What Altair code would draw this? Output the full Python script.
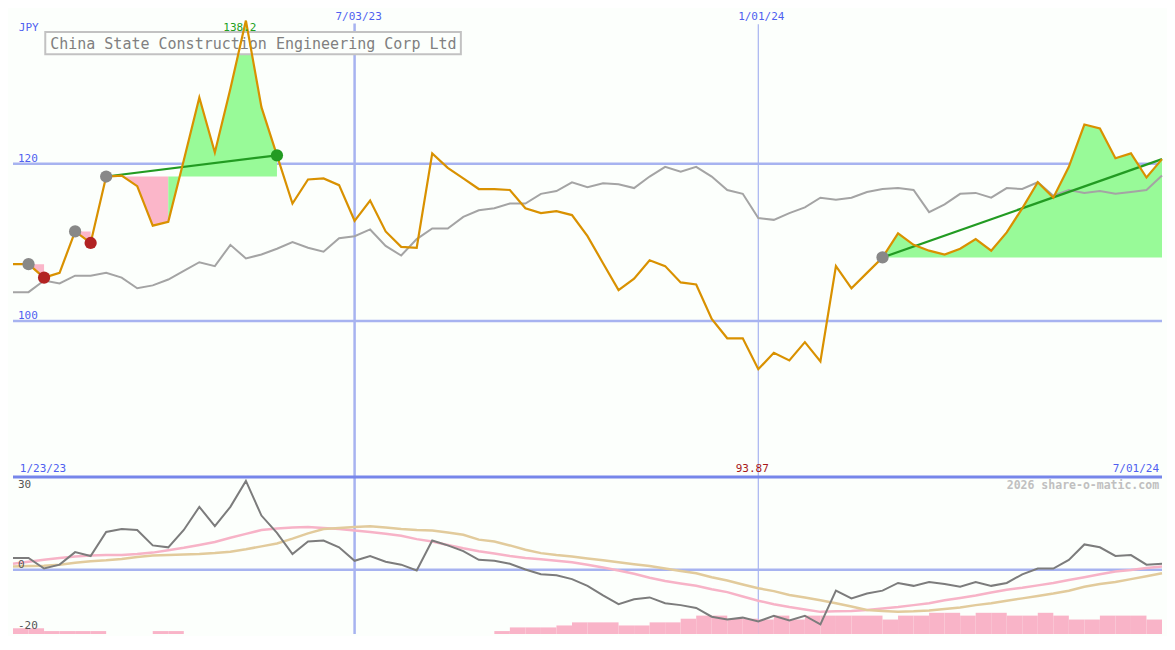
import altair as alt
import pandas as pd

# ---------------- data ----------------
dates = pd.date_range("2023-01-30", periods=75, freq="7D")

price = [107.23, 107.23, 105.51, 106.12, 111.39, 109.92, 118.37, 118.49, 117.15, 112.12,
         112.61, 120.45, 128.41, 121.43, 129.52, 138.2, 127.19, 121.07, 114.94, 118.0,
         118.13, 117.27, 112.74, 115.31, 111.39, 109.43, 109.31, 121.31, 119.47, 118.13,
         116.78, 116.78, 116.66, 114.33, 113.72, 113.96, 113.47, 110.78, 107.35, 103.92,
         105.39, 107.72, 106.98, 104.9, 104.65, 100.25, 97.8, 97.8, 93.87, 95.96,
         94.98, 97.31, 94.86, 106.98, 104.16, 106.12, 108.08, 111.15, 109.68, 108.94,
         108.45, 109.19, 110.41, 108.94, 111.27, 114.33, 117.64, 115.68, 119.6, 124.98,
         124.49, 120.7, 121.31, 118.25, 120.58]

relative = [103.67, 103.67, 105.14, 104.78, 105.76, 105.76, 106.12, 105.51, 104.16, 104.53,
            105.27, 106.37, 107.47, 106.98, 109.68, 107.96, 108.45, 109.19, 110.05, 109.31,
            108.82, 110.53, 110.78, 111.64, 109.55, 108.33, 110.41, 111.76, 111.76, 113.23,
            114.08, 114.33, 114.94, 114.94, 116.17, 116.53, 117.64, 117.02, 117.51, 117.39,
            116.9, 118.37, 119.6, 118.98, 119.6, 118.37, 116.66, 116.17, 113.1, 112.86,
            113.72, 114.45, 115.68, 115.43, 115.68, 116.41, 116.78, 116.9, 116.66, 113.84,
            114.82, 116.17, 116.29, 115.68, 116.9, 116.78, 117.64, 115.92, 116.66, 116.29,
            116.53, 116.17, 116.41, 116.66, 118.49]

osc = [4.21, 4.21, 0.45, 1.82, 6.27, 4.9, 13.46, 14.49, 14.14, 8.66,
       7.98, 14.14, 22.36, 15.51, 22.36, 31.61, 19.28, 13.12, 5.58, 10.03,
       10.38, 7.98, 3.18, 4.9, 2.84, 1.82, -0.24, 10.38, 8.66, 6.61,
       3.53, 3.18, 2.16, 0.1, -1.61, -1.95, -3.32, -5.72, -9.14, -12.23,
       -10.51, -9.83, -11.88, -12.57, -13.59, -16.68, -17.71, -17.02, -18.39, -16.34,
       -18.05, -16.34, -19.42, -7.43, -10.17, -8.46, -7.43, -4.69, -5.72, -4.35,
       -5.03, -6.06, -4.35, -5.72, -4.69, -1.61, 0.45, 0.45, 3.53, 9.01,
       7.98, 4.9, 5.24, 1.82, 2.16]

ma_fast = [2.16, 2.84, 3.53, 4.21, 4.73, 5.07, 5.24, 5.24, 5.58, 6.1,
           6.95, 7.81, 8.84, 9.86, 11.4, 12.77, 14.14, 14.66, 15.0, 15.17,
           14.83, 14.49, 13.97, 13.46, 12.77, 12.09, 10.89, 10.03, 8.84, 7.64,
           6.61, 5.75, 4.9, 4.21, 3.7, 3.18, 2.67, 1.82, 0.79, -0.24,
           -1.44, -2.81, -4.01, -4.86, -5.72, -6.92, -7.95, -9.49, -11.03, -12.23,
           -13.25, -14.11, -14.97, -14.79, -14.62, -14.28, -13.77, -13.25, -12.57, -11.88,
           -10.86, -10.0, -9.14, -8.12, -7.09, -6.4, -5.55, -4.69, -3.66, -2.64,
           -1.61, -0.58, -0.07, 0.62, 1.13]

ma_slow = [1.13, 1.3, 1.47, 1.82, 2.5, 3.01, 3.36, 3.87, 4.55, 5.07,
           5.24, 5.41, 5.58, 5.92, 6.44, 7.29, 8.32, 9.35, 11.06, 12.95,
           14.49, 14.83, 15.17, 15.51, 15.0, 14.49, 14.14, 13.97, 13.29, 12.43,
           10.72, 10.03, 8.66, 7.12, 5.92, 5.24, 4.73, 4.04, 3.36, 2.67,
           1.99, 1.3, 0.45, -0.41, -1.27, -2.64, -3.84, -5.21, -6.58, -7.6,
           -8.97, -9.83, -10.86, -11.88, -13.08, -14.28, -14.62, -14.97, -14.79, -14.45,
           -13.94, -13.42, -12.57, -11.88, -11.03, -10.17, -9.32, -8.46, -7.43, -6.06,
           -5.03, -4.35, -3.32, -2.29, -1.27]

bars = [-20.8, -20.8, -21.8, -21.8, -21.8, -21.8, None, None, None, -21.8,
        -21.8, None, None, None, None, None, None, None, None, None,
        None, None, None, None, None, None, None, None, None, None,
        None, -21.8, -20.5, -20.5, -20.5, -19.8, -18.7, -18.7, -18.7, -19.8,
        -19.8, -18.7, -18.7, -17.4, -16.3, -16.3, -17.4, -17.4, -17.7, -16.3,
        -17.7, -16.3, -16.3, -16.3, -16.3, -16.3, -17.7, -16.3, -16.3, -15.3,
        -15.3, -16.3, -15.3, -15.3, -16.3, -16.3, -15.3, -16.3, -17.7, -17.7,
        -16.3, -16.3, -16.3, -17.7, None]

sig_start = [1, 4, 6, 56]
sig_end = [2, 5, 17, 74]
sig_closed = [True, True, True, False]

title_text = "China State Construction Engineering Corp Ltd"
high_label = "138.2"
low_label = "93.87"

# ---------------- layout / style ----------------
W, H = 1149, 626
SX, SY = W / 1175, H / 650
MONO = "DejaVu Sans Mono"
BG = "#fcfffc"
BLUE_TXT = "#4f5ff0"
GRID = "#a7b3f0"
SEP = "#7686ea"
ORANGE = "#d99100"
GRAY = "#a4a4a4"
GREEN_FILL = "#98fa98"
PINK_FILL = "#fbb6c9"
GREEN_LINE = "#229b22"

TOP_DOM = [80.16, 139.80]
TOP_RNG = [487 * SY, 0]
LOW_DOM = [-22.84, 32.98]
LOW_RNG = [650 * SY, 487 * SY]

xscale = alt.Scale(domain=[alt.DateTime(year=2023, month=1, date=30),
                           alt.DateTime(year=2024, month=7, date=1)])


def X(field="date"):
    return alt.X(f"{field}:T", scale=xscale, axis=None)


def YT(field):
    return alt.Y(f"{field}:Q", scale=alt.Scale(domain=TOP_DOM, range=TOP_RNG, nice=False, zero=False),
                 axis=None, stack=None)


def YL(field):
    return alt.Y(f"{field}:Q", scale=alt.Scale(domain=LOW_DOM, range=LOW_RNG, nice=False, zero=False),
                 axis=None, stack=None)


def one():
    return alt.Chart(pd.DataFrame({"a": [0]}))


def label(txt, x, y, color, size=11, align="left", weight="normal"):
    return alt.Chart(pd.DataFrame({"t": [txt]})).mark_text(
        align=align, baseline="middle", font=MONO, fontSize=size, color=color, fontWeight=weight
    ).encode(x=alt.value(x * SX), y=alt.value(y * SY), text="t:N")


# ---------------- tables ----------------
main = pd.DataFrame({"date": dates, "price": price, "relative": relative, "osc": osc,
                     "ma_fast": ma_fast, "ma_slow": ma_slow})

bar_rows = []
for i, b in enumerate(bars):
    if b is not None and i + 1 < len(dates):
        bar_rows.append({"date": dates[i], "date2": dates[i + 1], "v": b, "base": LOW_DOM[0]})
bar_df = pd.DataFrame(bar_rows)

fill_rows = []
for k, (s, e) in enumerate(zip(sig_start, sig_end)):
    L = price[s]
    run = 0
    prev = None
    for i in range(s, e):
        st = "up" if price[i + 1] >= L else "down"
        if st != prev:
            run += 1
            prev = st
            fill_rows.append({"date": dates[i], "price": price[i], "level": L,
                              "seg": f"{k}-{run}", "state": st})
        fill_rows.append({"date": dates[i + 1], "price": price[i + 1], "level": L,
                          "seg": f"{k}-{run}", "state": st})
fill_df = pd.DataFrame(fill_rows)

trend_rows = []
for k, (s, e) in enumerate(zip(sig_start, sig_end)):
    if e - s > 1:
        trend_rows.append({"date": dates[s], "price": price[s], "g": k})
        trend_rows.append({"date": dates[e], "price": price[e], "g": k})
trend_df = pd.DataFrame(trend_rows)

mark_rows = []
for s, e, c in zip(sig_start, sig_end, sig_closed):
    mark_rows.append({"date": dates[s], "price": price[s], "kind": "start"})
    if c:
        mark_rows.append({"date": dates[e], "price": price[e],
                          "kind": "up" if price[e] >= price[s] else "down"})
mark_df = pd.DataFrame(mark_rows)

vlines_thick = pd.DataFrame({"date": [pd.Timestamp("2023-07-03")], "t": ["7/03/23"]})
vlines_thin = pd.DataFrame({"date": [pd.Timestamp("2024-01-01")], "t": ["1/01/24"]})
top_ticks = pd.DataFrame({"v": [120, 100], "t": ["120", "100"]})
low_ticks = pd.DataFrame({"v": [30, -20], "t": ["30", "-20"]})
zero_tick = pd.DataFrame({"v": [0], "t": ["0"]})

# ---------------- layers ----------------
layers = []

layers.append(alt.Chart(top_ticks).mark_rule(color=GRID, strokeWidth=2.5).encode(
    y=YT("v"), x=alt.value(0), x2=alt.value(W)))
layers.append(alt.Chart(zero_tick).mark_rule(color=GRID, strokeWidth=2.5).encode(
    y=YL("v"), x=alt.value(0), x2=alt.value(W)))
layers.append(alt.Chart(vlines_thick).mark_rule(color=GRID, strokeWidth=2.5).encode(
    x=X(), y=alt.value(16 * SY), y2=alt.value(H)))
layers.append(alt.Chart(vlines_thin).mark_rule(color=GRID, strokeWidth=1.2).encode(
    x=X(), y=alt.value(17 * SY), y2=alt.value(H)))
layers.append(one().mark_rule(color=SEP, strokeWidth=3).encode(
    y=alt.value(487 * SY), x=alt.value(0), x2=alt.value(W)))

layers.append(alt.Chart(bar_df).mark_rect(color="#f9b4c8").encode(
    x=X(), x2="date2:T", y=YL("v"), y2="base:Q"))

layers.append(alt.Chart(fill_df).mark_area(interpolate="linear", opacity=1).encode(
    x=X(), y=YT("price"), y2="level:Q", detail="seg:N",
    color=alt.Color("state:N", scale=alt.Scale(domain=["up", "down"], range=[GREEN_FILL, PINK_FILL]),
                    legend=None)))

layers.append(one().mark_rect(fill=BG, stroke="#c2c2c2", strokeWidth=2).encode(
    x=alt.value(33 * SX), x2=alt.value(458 * SX), y=alt.value(25 * SY), y2=alt.value(48 * SY)))
layers.append(label(title_text, 38, 37, "#808080", size=15))

layers.append(alt.Chart(main).mark_line(color=GRAY, strokeWidth=2).encode(x=X(), y=YT("relative")))
layers.append(alt.Chart(trend_df).mark_line(color=GREEN_LINE, strokeWidth=2.2).encode(
    x=X(), y=YT("price"), detail="g:N"))
layers.append(alt.Chart(main).mark_line(color=ORANGE, strokeWidth=2.2).encode(x=X(), y=YT("price")))

layers.append(alt.Chart(mark_df).mark_circle(size=150, opacity=1).encode(
    x=X(), y=YT("price"),
    color=alt.Color("kind:N", scale=alt.Scale(domain=["start", "down", "up"],
                                              range=["#888888", "#b22222", "#229b22"]), legend=None)))

layers.append(alt.Chart(main).mark_line(color="#f7b3c7", strokeWidth=2.5).encode(x=X(), y=YL("ma_fast")))
layers.append(alt.Chart(main).mark_line(color="#e2cb9c", strokeWidth=2.5).encode(x=X(), y=YL("ma_slow")))
layers.append(alt.Chart(main).mark_line(color="#7c7c7c", strokeWidth=2).encode(x=X(), y=YL("osc")))

layers.append(label("JPY", 6, 21, BLUE_TXT))
layers.append(alt.Chart(top_ticks).mark_text(align="left", baseline="middle", font=MONO, fontSize=11,
                                             color=BLUE_TXT, dy=-5).encode(
    x=alt.value(5 * SX), y=YT("v"), text="t:N"))
layers.append(alt.Chart(low_ticks).mark_text(align="left", baseline="middle", font=MONO, fontSize=11,
                                             color="#555555").encode(
    x=alt.value(5 * SX), y=YL("v"), text="t:N"))
layers.append(alt.Chart(zero_tick).mark_text(align="left", baseline="middle", font=MONO, fontSize=11,
                                             color="#555555", dy=-5).encode(
    x=alt.value(5 * SX), y=YL("v"), text="t:N"))
for df, dx in ((vlines_thick, 4), (vlines_thin, 3)):
    layers.append(alt.Chart(df).mark_text(align="center", baseline="middle", font=MONO, fontSize=11,
                                          color=BLUE_TXT, dx=dx).encode(
        x=X(), y=alt.value(9 * SY), text="t:N"))
layers.append(label("1/23/23", 7, 479, BLUE_TXT))
layers.append(label("7/01/24", 1172, 479, BLUE_TXT, align="right"))
layers.append(label("2026 share-o-matic.com", 1172, 496, "#c0c0c0", size=11.5, align="right", weight="bold"))

hi_i = price.index(max(price))
lo_i = price.index(min(price))
layers.append(alt.Chart(pd.DataFrame({"date": [dates[hi_i]], "t": [high_label]})).mark_text(
    align="center", baseline="middle", font=MONO, fontSize=11, color="#22a022", dx=-6).encode(
    x=X(), y=alt.value(21 * SY), text="t:N"))
layers.append(alt.Chart(pd.DataFrame({"date": [dates[lo_i]], "t": [low_label]})).mark_text(
    align="center", baseline="middle", font=MONO, fontSize=11, color="#a81818", dx=-6).encode(
    x=X(), y=alt.value(479 * SY), text="t:N"))

chart = alt.layer(*layers).resolve_scale(y="independent", color="independent").properties(
    width=W, height=H, padding=0, background=BG
).configure_view(stroke=None)

chart.save("out.html", embed_options={"renderer": "svg", "actions": False})
